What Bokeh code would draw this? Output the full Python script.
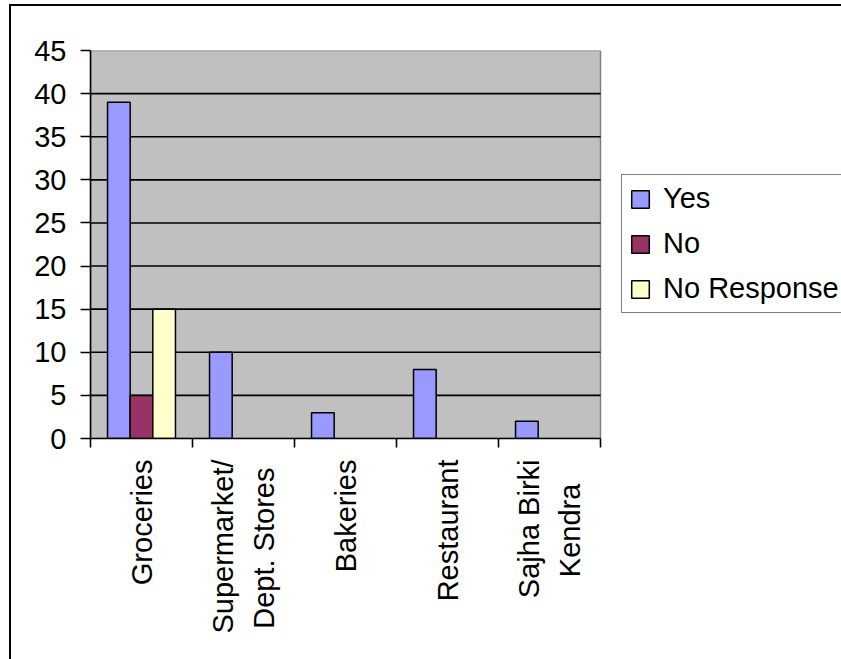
import math
import numpy as np
from bokeh.plotting import figure
from bokeh.models import FixedTicker, Legend, LegendItem, Range1d, InlineStyleSheet
from bokeh.embed import file_html
from bokeh.resources import INLINE

categories = ["Groceries", "Supermarket/\nDept. Stores", "Bakeries", "Restaurant", "Sajha Birki\nKendra"]
# trailing no-break spaces keep the shorter line of a two-line label centred
label_pad = ["", "\u00a0", "", "", "\u00a0\u00a0\u00a0"]
yes = [39, 10, 3, 8, 2]
no = [5, 0, 0, 0, 0]
no_response = [15, 0, 0, 0, 0]
series_names = ["Yes", "No", "No Response"]
series_colors = ["#9999FF", "#993366", "#FFFFCC"]
y_ticks = [0, 5, 10, 15, 20, 25, 30, 35, 40, 45]
y_max = 45

FONT = "Liberation Sans"
FS = "29px"

n = len(categories)
centers = np.arange(n) + 0.5
bw = 0.222

# layout: plot area 90..600 px wide for the n categories; frame runs on to the right edge
W, H = 841, 659
left_px, top_px, bottom_px = 90, 50, 221
cat_px = 102.0
frame_w = W - left_px
x_end = frame_w / cat_px

css = InlineStyleSheet(css="""
:host::after {
  content: '';
  position: absolute;
  left: 9px; top: 4px; width: 832px; height: 655px;
  box-sizing: border-box;
  border-left: 2.5px solid black;
  border-top: 2.5px solid black;
  pointer-events: none;
}
""")

p = figure(width=W, height=H, x_range=Range1d(0, x_end), y_range=Range1d(0, y_max),
           output_backend="svg", toolbar_location=None,
           min_border_left=left_px, min_border_right=0, min_border_top=top_px,
           min_border_bottom=bottom_px, stylesheets=[css])
p.background_fill_color = "white"
p.border_fill_color = "white"
p.outline_line_color = None
p.xgrid.visible = False
p.ygrid.visible = False

# grey plot area
p.quad(left=0, right=n, bottom=0, top=y_max, fill_color="#C0C0C0",
       line_color="#808080", line_width=1.5)
# horizontal gridlines inside plot area
grid_y = [t for t in y_ticks if 0 < t < y_max]
p.segment(x0=[0] * len(grid_y), x1=[n] * len(grid_y), y0=grid_y, y1=grid_y,
          line_color="black", line_width=1.6)

renderers = []
for i, (vals, col) in enumerate(zip([yes, no, no_response], series_colors)):
    vals = np.array(vals, dtype=float)
    mask = vals > 0
    xs = (centers + (i - 1) * bw)[mask]
    r = p.vbar(x=xs, top=vals[mask], bottom=0, width=bw, fill_color=col,
               line_color="black", line_width=1.5)
    renderers.append(r)

# y axis
p.yaxis.ticker = FixedTicker(ticks=y_ticks)
p.yaxis.axis_line_color = "black"
p.yaxis.axis_line_width = 1.6
p.yaxis.major_tick_out = 10
p.yaxis.major_tick_in = 0
p.yaxis.major_tick_line_color = "black"
p.yaxis.major_tick_line_width = 1.6
p.yaxis.minor_tick_line_color = None
p.yaxis.major_label_text_font = FONT
p.yaxis.major_label_text_font_size = FS
p.yaxis.major_label_text_color = "black"
p.yaxis.major_label_standoff = 14

# x axis
p.xaxis.bounds = (0, n)
p.xaxis.ticker = FixedTicker(ticks=list(centers), minor_ticks=list(range(n + 1)))
p.xaxis.major_label_overrides = {float(c): lab + pad for c, lab, pad in zip(centers, categories, label_pad)}
p.xaxis.major_tick_line_color = None
p.xaxis.major_tick_out = 0
p.xaxis.major_tick_in = 0
p.xaxis.minor_tick_line_color = "black"
p.xaxis.minor_tick_line_width = 1.6
p.xaxis.minor_tick_out = 9
p.xaxis.minor_tick_in = 0
p.xaxis.axis_line_color = "black"
p.xaxis.axis_line_width = 1.6
p.xaxis.major_label_orientation = math.pi / 2
p.xaxis.major_label_text_font = FONT
p.xaxis.major_label_text_font_size = FS
p.xaxis.major_label_text_color = "black"
p.xaxis.major_label_text_line_height = 1.3
p.xaxis.major_label_standoff = 12

legend = Legend(items=[LegendItem(label=nm, renderers=[r]) for nm, r in zip(series_names, renderers)],
                location=(531, 125))
legend.border_line_color = "black"
legend.border_line_width = 1.5
legend.background_fill_color = "white"
legend.background_fill_alpha = 1
legend.label_text_font = FONT
legend.label_text_font_size = FS
legend.label_text_color = "black"
legend.glyph_width = 22
legend.glyph_height = 22
legend.label_standoff = 12
legend.padding = 7
legend.spacing = 12
legend.label_height = 30
legend.margin = 0
p.add_layout(legend, "center")

open("out.html", "w").write(file_html(p, INLINE))
